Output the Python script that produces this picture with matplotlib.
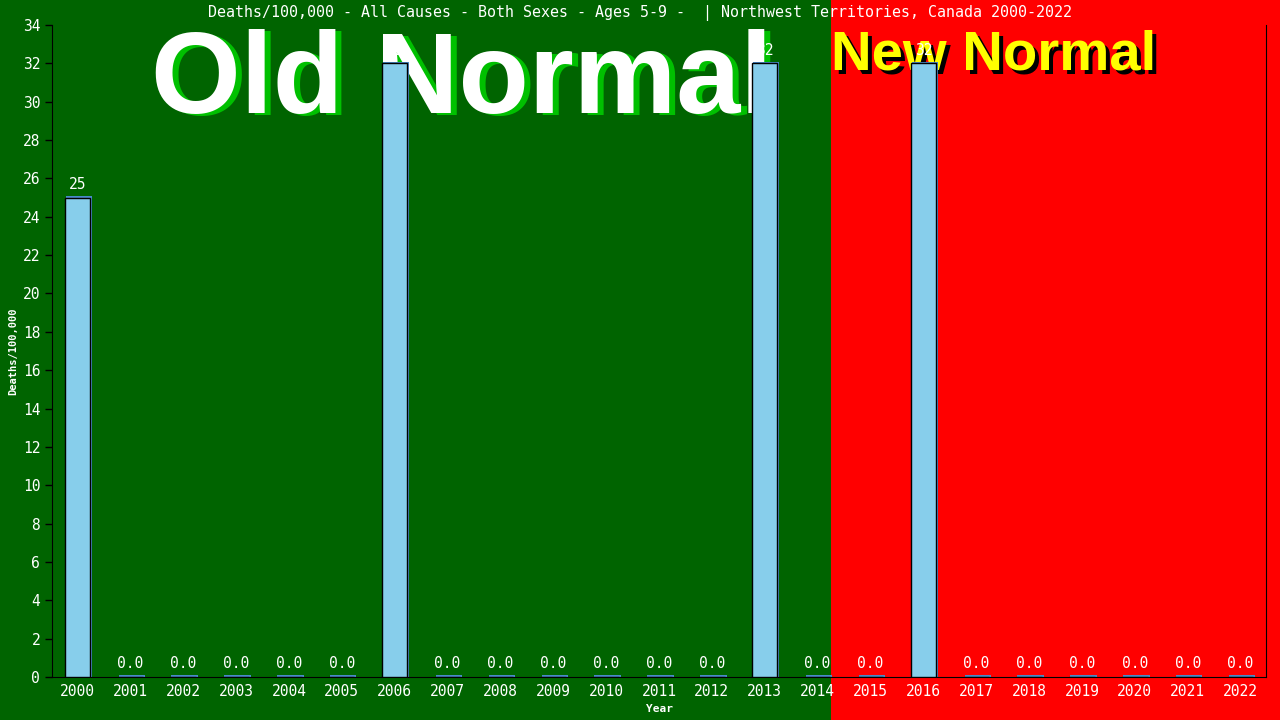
import numpy as np
import matplotlib
matplotlib.use('Agg')
import matplotlib.pyplot as plt
from matplotlib.patches import Rectangle
from matplotlib.transforms import blended_transform_factory, offset_copy

years = [str(y) for y in range(2000, 2023)]
deaths = [25, 0, 0, 0, 0, 0, 32, 0, 0, 0, 0, 0, 0, 32, 0, 0, 32, 0, 0, 0, 0, 0, 0]
bar_labels = ['25', '0.0', '0.0', '0.0', '0.0', '0.0', '32', '0.0', '0.0', '0.0', '0.0', '0.0',
              '0.0', '32', '0.0', '0.0', '32', '0.0', '0.0', '0.0', '0.0', '0.0', '0.0']
new_normal_start = 14.25  # position (in bar index) where the red "New Normal" zone begins

title = 'Deaths/100,000 - All Causes - Both Sexes - Ages 5-9 -  | Northwest Territories, Canada 2000-2022'

green = '#006400'
red = '#ff0000'
mono = 'DejaVu Sans Mono'

fig = plt.figure(figsize=(12.8, 7.2), dpi=100, facecolor=green)
ax = fig.add_axes([52/1280, 43/720, (1266-52)/1280, (677-25)/720])
ax.set_facecolor('none')

# red zone from new_normal_start to the right edge of the figure, full height
trans = blended_transform_factory(ax.transData, fig.transFigure)
fig.add_artist(Rectangle((new_normal_start, 0), 100, 1, transform=trans,
                         facecolor=red, edgecolor='none', zorder=-5, clip_on=False))

x = np.arange(len(years))
vals = np.array(deaths, dtype=float)

# big background captions
ax.text(1.4, 29.4, 'Old Normal', fontsize=83, fontweight='bold',
        family='Liberation Sans', color='#00c000', va='baseline', ha='left',
        transform=offset_copy(ax.transData, fig=fig, x=6, y=-2, units='dots'), zorder=1)
ax.text(1.4, 29.4, 'Old Normal', fontsize=83, fontweight='bold',
        family='Liberation Sans', color='white', va='baseline', ha='left', zorder=1.1)
ax.text(new_normal_start, 31.7, 'New Normal', fontsize=40.5, fontweight='bold',
        family='Liberation Sans', color='black', va='baseline', ha='left',
        transform=offset_copy(ax.transData, fig=fig, x=4, y=-4, units='dots'), zorder=1)
ax.text(new_normal_start, 31.7, 'New Normal', fontsize=40.5, fontweight='bold',
        family='Liberation Sans', color='yellow', va='baseline', ha='left', zorder=1.1)

# bar shadow + bar
ax.bar(x, vals + 0.12, width=0.5, bottom=-0.04, color='#4a8ac8', edgecolor='none',
       zorder=2, transform=offset_copy(ax.transData, fig=fig, x=1.5, y=0, units='dots'))
ax.bar(x, vals, width=0.48, color='#87ceeb', edgecolor='black', linewidth=1, zorder=3)
for xi, v, lab in zip(x, vals, bar_labels):
    ax.annotate(lab, (xi, v), xytext=(0, 4), textcoords='offset points', ha='center',
                va='bottom', color='white', fontsize=10.5, family=mono, zorder=4)

ax.set_xlim(-0.48, 22.48)
ax.set_ylim(0, 34)
ax.set_yticks(range(0, 35, 2))
ax.set_xticks(x)
ax.set_xticklabels(years)
ax.tick_params(axis='y', colors='black', labelcolor='white', labelsize=10.5, length=5, width=1)
ax.tick_params(axis='x', length=0, labelcolor='white', labelsize=10.5, pad=5)
for lab in ax.get_xticklabels() + ax.get_yticklabels():
    lab.set_family(mono)
for side in ['left', 'bottom', 'right']:
    ax.spines[side].set_color('black')
ax.spines['top'].set_visible(False)

ax.set_xlabel('Year', color='white', fontsize=8, fontweight='bold', family=mono, labelpad=4)
ax.set_ylabel('Deaths/100,000', color='white', fontsize=7.5, fontweight='bold', family=mono, labelpad=3)
fig.text(0.5, 1 - 13/720, title, color='white', fontsize=10.8, family=mono,
         ha='center', va='center')

fig.savefig('out.png', dpi=100, facecolor=green)
